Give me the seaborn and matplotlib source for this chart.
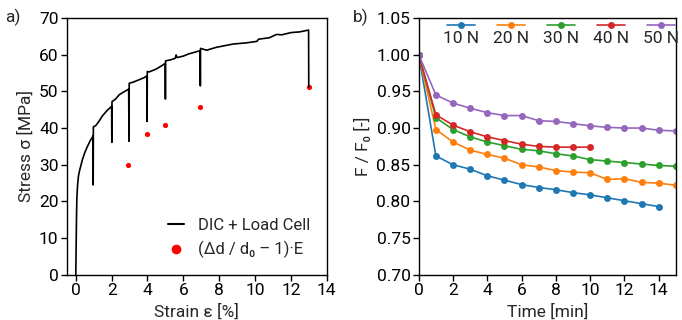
import numpy as np
import pandas as pd
import matplotlib
import matplotlib.pyplot as plt
import seaborn as sns
from matplotlib.lines import Line2D
from matplotlib.offsetbox import VPacker

# stress-strain path (DIC + load cell), including relaxation drops
strain = [0.0, 0.02, 0.04, 0.06, 0.1, 0.15, 0.22, 0.37, 0.5, 0.65, 0.8, 0.97,
          0.97, 0.98, 1.12, 1.3, 1.5, 1.75, 2.0,
          2.01, 2.02, 2.2, 2.43, 2.7, 2.95,
          2.97, 2.98, 3.2, 3.55, 3.8, 3.97,
          3.98, 3.99, 4.1, 4.5, 4.8, 4.99,
          5.0, 5.01, 5.3, 5.55, 5.6, 5.65, 6.0, 6.3, 6.6, 6.94,
          6.95, 6.96, 7.3, 7.85, 8.8, 9.5, 10.1, 10.2, 10.8, 11.2, 11.5, 12.0, 12.5, 12.99,
          13.0]
stress = [0.0, 8.0, 16.0, 21.0, 24.5, 27.0, 28.6, 31.4, 33.3, 35.0, 36.5, 37.9,
          24.5, 40.3, 40.7, 41.9, 43.4, 44.8, 45.9,
          36.1, 47.2, 47.8, 49.1, 49.9, 50.6,
          36.4, 52.2, 52.5, 53.2, 53.7, 54.2,
          41.8, 55.4, 55.3, 56.1, 57.0, 57.6,
          47.9, 58.3, 58.6, 59.0, 59.9, 59.2, 59.6, 60.2, 60.6, 61.1,
          51.5, 61.7, 61.2, 62.0, 62.9, 63.2, 63.6, 64.2, 64.6, 65.5, 65.4, 66.0, 66.2, 66.7,
          51.2]

# optical estimate
red_strain = [2.9, 4.0, 5.0, 6.95, 13.0]
red_stress = [29.8, 38.3, 40.8, 45.7, 51.2]

# force relaxation
time = list(range(16))
f10 = [1.000, 0.862, 0.850, 0.844, 0.835, 0.829, 0.823, 0.819, 0.816, 0.812,
       0.809, 0.805, 0.801, 0.797, 0.793]
f20 = [1.000, 0.898, 0.881, 0.870, 0.864, 0.859, 0.850, 0.847, 0.842, 0.840,
       0.839, 0.830, 0.831, 0.826, 0.825, 0.822]
f30 = [1.000, 0.914, 0.898, 0.888, 0.881, 0.876, 0.871, 0.869, 0.865, 0.862,
       0.857, 0.855, 0.853, 0.851, 0.849, 0.848]
f40 = [1.000, 0.918, 0.904, 0.895, 0.888, 0.883, 0.878, 0.875, 0.874, 0.874,
       0.874]
f50 = [1.000, 0.945, 0.934, 0.927, 0.921, 0.917, 0.917, 0.910, 0.909, 0.906,
       0.903, 0.901, 0.900, 0.900, 0.897, 0.896]
loads = ['10 N', '20 N', '30 N', '40 N', '50 N']

rows = []
for name, vals in zip(loads, [f10, f20, f30, f40, f50]):
    for t, v in zip(time, vals):
        rows.append({'Time': t, 'F': v, 'Load': name})
df = pd.DataFrame(rows)

sns.set_style('ticks')
plt.rcParams['font.family'] = ['Roboto', 'DejaVu Sans']
plt.rcParams['font.size'] = 12.5
plt.rcParams['axes.linewidth'] = 1.0

fig = plt.figure(figsize=(6.82, 3.2), dpi=100)
ax1 = fig.add_axes([0.098, 0.141, 0.381, 0.803])
ax2 = fig.add_axes([0.614, 0.141, 0.377, 0.803])

# panel a
path = pd.DataFrame({'strain': strain, 'stress': stress})
sns.lineplot(data=path, x='strain', y='stress', sort=False, estimator=None,
             color='black', linewidth=1.2, ax=ax1)
sns.scatterplot(x=red_strain, y=red_stress, color='red', s=14, linewidth=0,
                ax=ax1)
ax1.set_xlim(-0.5, 14)
ax1.set_ylim(0, 70)
ax1.set_xticks(np.arange(0, 15, 2))
ax1.set_yticks(np.arange(0, 71, 10))
ax1.set_xlabel('Strain ε [%]')
ax1.set_ylabel('Stress σ [MPa]')
handles = [Line2D([], [], color='black', lw=1.5),
           Line2D([], [], color='red', marker='o', ls='', ms=7, mew=0)]
ax1.legend(handles, ['DIC + Load Cell', '(Δd / d\u2080 – 1)·E'],
           loc='lower right', frameon=False, handlelength=1.0, fontsize=12,
           handletextpad=0.8, borderaxespad=0.6, labelspacing=0.5)

# panel b
sns.lineplot(data=df, x='Time', y='F', hue='Load', marker='o', markersize=5,
             markeredgewidth=0, linewidth=1.2, palette='tab10', ax=ax2)
ax2.set_xlim(0, 15)
ax2.set_ylim(0.70, 1.05)
ax2.set_xticks(np.arange(0, 15, 2))
ax2.set_yticks(np.arange(0.70, 1.051, 0.05))
ax2.yaxis.set_major_formatter(matplotlib.ticker.FormatStrFormatter('%.2f'))
ax2.set_xlabel('Time [min]')
ax2.set_ylabel('F / F\u2080 [-]')
leg = ax2.legend(loc='upper center', ncol=5, frameon=False, handlelength=1.6,
                 columnspacing=0.8, borderaxespad=0.0, handletextpad=0.2,
                 bbox_to_anchor=(0.553, 1.025))
# stack each handle above its label
for col in leg._legend_handle_box.get_children():
    for entry in col.get_children():
        entry.__class__ = VPacker
        entry.align = 'center'
        entry.sep = 0

for ax in (ax1, ax2):
    for sp in ax.spines.values():
        sp.set_visible(True)
        sp.set_color('black')
    ax.tick_params(direction='out', length=4, width=1.0, colors='black',
                   pad=2)

fig.text(0.008, 0.93, 'a)', fontsize=12.5)
fig.text(0.518, 0.93, 'b)', fontsize=12.5)

fig.savefig('out.png', dpi=100)
